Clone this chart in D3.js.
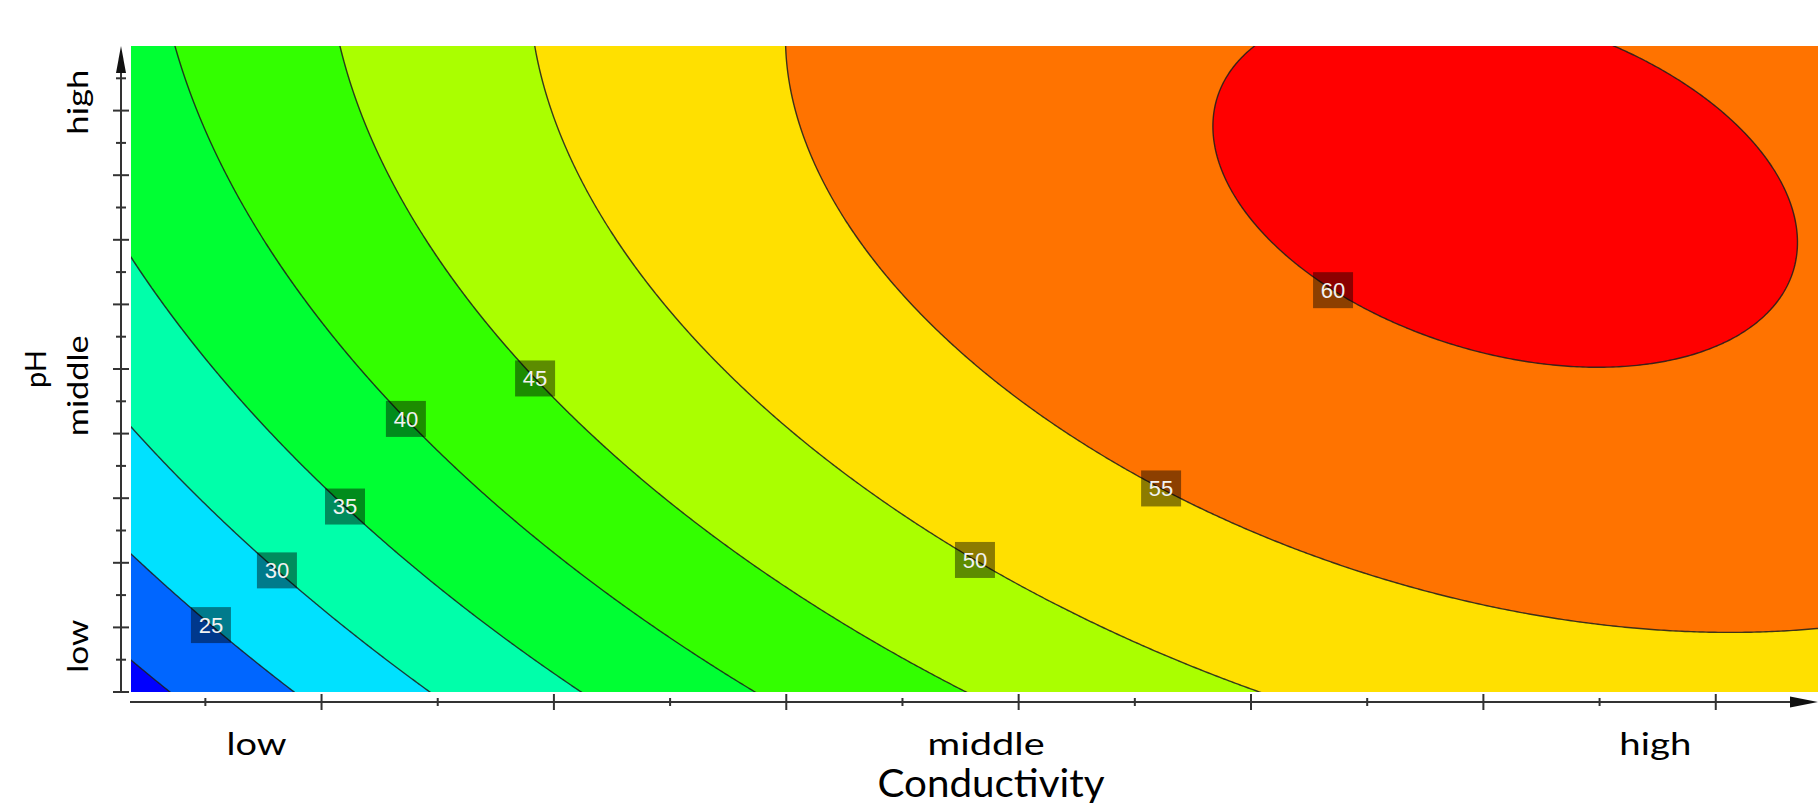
<!DOCTYPE html>
<html>
<head>
<meta charset="utf-8">
<script src="https://cdn.jsdelivr.net/npm/d3@7"></script>
<style>
  body { margin: 0; background: #fff; }
  svg { display: block; }
</style>
</head>
<body>
<svg id="chart" width="1820" height="803"></svg>
<script>
// Contour levels of the response and the fill of each band (lowest band first)
const levels = [20, 25, 30, 35, 40, 45, 50, 55, 60];
const bandColors = ["#0000ff", "#0066ff", "#00e1ff", "#00ffaa", "#00ff33",
                    "#33ff00", "#aaff00", "#ffe000", "#ff7300", "#ff0000"];

// Fitted response surface, both factors scaled to 0..1 over the plotted range:
// [intercept, conductivity, pH, conductivity², pH², conductivity·pH, conductivity²·pH]
const coefficients = [18.35, 72.4, 34.08, -37.5, -13.88, -15.79, 0.86];

// Factor ranges in axis tick units
const condDomain = [-0.82, 6.44];
const phDomain = [0, 10];
const condMajorTicks = [0, 1, 2, 3, 4, 5, 6];
const condMinorTicks = [-0.5, 0.5, 1.5, 2.5, 3.5, 4.5, 5.5];
const phMajorTicks = [0, 1, 2, 3, 4, 5, 6, 7, 8, 9];
const phMinorTicks = [0.5, 1.5, 2.5, 3.5, 4.5, 5.5, 6.5, 7.5, 8.5, 9.5];
const condLabels = ["low", "middle", "high"];
const condLabelPos = [-0.28, 2.86, 5.74];
const phLabels = ["low", "middle", "high"];
const phLabelPos = [0.71, 4.74, 9.13];

// Contour labels: level and the conductivity where its tag sits on the line
const labelLevels = [25, 30, 35, 40, 45, 50, 55, 60];
const labelCond = [-0.476, -0.192, 0.101, 0.363, 0.919, 2.812, 3.613, 4.353];

const svg = d3.select("#chart");
const plot = { left: 131, right: 1818, top: 46, bottom: 692 };

const x = d3.scaleLinear().domain(condDomain).range([plot.left, plot.right]);
const y = d3.scaleLinear().domain(phDomain).range([plot.bottom, plot.top]);

const toU = c => (c - condDomain[0]) / (condDomain[1] - condDomain[0]);
const toV = p => (p - phDomain[0]) / (phDomain[1] - phDomain[0]);
const [b0, b1, b2, b11, b22, b12, b112] = coefficients;
function responseUV(u, v) {
  return b0 + b1 * u + b2 * v + b11 * u * u + b22 * v * v + b12 * u * v + b112 * u * u * v;
}
const response = (c, p) => responseUV(toU(c), toV(p));

// Sample the surface on a fine pixel grid that reaches a little past the plot edges
const step = 3;
const nx = Math.ceil((plot.right - plot.left) / step) + 5;
const ny = Math.ceil((plot.bottom - plot.top) / step) + 5;
const px0 = plot.left - 2 * step, py0 = plot.top - 2 * step;
const grid = new Array(nx * ny);
for (let j = 0; j < ny; j++) {
  for (let i = 0; i < nx; i++) {
    grid[j * nx + i] = response(x.invert(px0 + i * step), y.invert(py0 + j * step));
  }
}
const bands = d3.contours().size([nx, ny]).thresholds(levels)(grid);
const gridPath = d3.geoPath(d3.geoTransform({
  point(gx, gy) { this.stream.point(px0 + (gx - 0.5) * step, py0 + (gy - 0.5) * step); }
}));

svg.append("defs").append("clipPath").attr("id", "plot-clip")
  .append("rect")
  .attr("x", plot.left).attr("y", plot.top)
  .attr("width", plot.right - plot.left).attr("height", plot.bottom - plot.top);

const field = svg.append("g").attr("clip-path", "url(#plot-clip)");
field.append("rect")
  .attr("x", plot.left).attr("y", plot.top)
  .attr("width", plot.right - plot.left).attr("height", plot.bottom - plot.top)
  .attr("fill", bandColors[0]);
field.selectAll("path.band").data(bands).join("path")
  .attr("class", "band")
  .attr("d", gridPath)
  .attr("fill", (d, i) => bandColors[i + 1]);
field.selectAll("path.iso").data(bands).join("path")
  .attr("class", "iso")
  .attr("d", gridPath)
  .attr("fill", "none")
  .attr("stroke", "#1c1c1c")
  .attr("stroke-width", 1.4)
  .attr("stroke-opacity", 0.85);

// Contour tags: place each on its line by solving the surface for pH at the given conductivity
function phOnContour(level, c) {
  const u = toU(c);
  const f = v => responseUV(u, v) - level;
  // walk up from the bottom edge to the first crossing, then bisect
  let lo = 0, hi = null;
  for (let k = 1; k <= 400; k++) {
    const v = k / 400;
    if (Math.sign(f(v)) !== Math.sign(f(lo))) { hi = v; break; }
    lo = v;
  }
  if (hi === null) return phDomain[0];
  for (let k = 0; k < 40; k++) {
    const mid = (lo + hi) / 2;
    if (Math.sign(f(mid)) === Math.sign(f(lo))) lo = mid; else hi = mid;
  }
  return phDomain[0] + (lo + hi) / 2 * (phDomain[1] - phDomain[0]);
}
const tags = svg.append("g").selectAll("g").data(labelLevels).join("g")
  .attr("transform", (d, i) => `translate(${x(labelCond[i])},${y(phOnContour(d, labelCond[i]))})`);
tags.append("rect")
  .attr("x", -20).attr("y", -18).attr("width", 40).attr("height", 36)
  .attr("fill", "#000").attr("fill-opacity", 0.45);
tags.append("text")
  .attr("text-anchor", "middle").attr("dy", "0.36em")
  .attr("font-family", "'Liberation Sans', Arial, sans-serif")
  .attr("font-size", 22)
  .attr("fill", "#f2f2f2")
  .text(d => d);

// Axes
const axisColor = "#333";
const xAxisY = 702, yAxisX = 121;
const axes = svg.append("g").attr("stroke", axisColor).attr("stroke-width", 2);

axes.append("line").attr("x1", plot.left - 1).attr("x2", plot.right - 20)
  .attr("y1", xAxisY).attr("y2", xAxisY);
svg.append("path")
  .attr("d", `M${plot.right},${xAxisY}L${plot.right - 28},${xAxisY - 5.5}L${plot.right - 28},${xAxisY + 5.5}Z`)
  .attr("fill", "#111");
axes.selectAll("line.xmaj").data(condMajorTicks).join("line").attr("class", "xmaj")
  .attr("x1", d => x(d)).attr("x2", d => x(d))
  .attr("y1", xAxisY - 8).attr("y2", xAxisY + 8);
axes.selectAll("line.xmin").data(condMinorTicks).join("line").attr("class", "xmin")
  .attr("x1", d => x(d)).attr("x2", d => x(d))
  .attr("y1", xAxisY - 4).attr("y2", xAxisY + 4);

axes.append("line").attr("x1", yAxisX).attr("x2", yAxisX)
  .attr("y1", plot.bottom).attr("y2", plot.top + 20);
svg.append("path")
  .attr("d", `M${yAxisX},${plot.top}L${yAxisX - 5},${plot.top + 27}L${yAxisX + 5},${plot.top + 27}Z`)
  .attr("fill", "#111");
axes.selectAll("line.ymaj").data(phMajorTicks).join("line").attr("class", "ymaj")
  .attr("y1", d => y(d)).attr("y2", d => y(d))
  .attr("x1", yAxisX - 8).attr("x2", yAxisX + 8);
axes.selectAll("line.ymin").data(phMinorTicks).join("line").attr("class", "ymin")
  .attr("y1", d => y(d)).attr("y2", d => y(d))
  .attr("x1", yAxisX - 5).attr("x2", yAxisX + 5);

// Axis level labels and titles
const labelFont = "Lato, 'Open Sans', sans-serif";
const condLabelWidths = [60, 117, 72];
svg.append("g").selectAll("text").data(condLabels).join("text")
  .attr("x", (d, i) => x(condLabelPos[i])).attr("y", 755)
  .attr("text-anchor", "middle")
  .attr("font-family", labelFont).attr("font-size", 31).attr("fill", "#000")
  .attr("textLength", (d, i) => condLabelWidths[i]).attr("lengthAdjust", "spacingAndGlyphs")
  .text(d => d);
svg.append("text")
  .attr("x", 991).attr("y", 797)
  .attr("text-anchor", "middle")
  .attr("font-family", labelFont).attr("font-size", 38).attr("fill", "#000")
  .attr("textLength", 227).attr("lengthAdjust", "spacingAndGlyphs")
  .text("Conductivity");

const phLabelLengths = [53, 101, 65];
svg.append("g").selectAll("text").data(phLabels).join("text")
  .attr("transform", (d, i) => `translate(88,${y(phLabelPos[i])}) rotate(-90)`)
  .attr("text-anchor", "middle")
  .attr("font-family", labelFont).attr("font-size", 28).attr("fill", "#000")
  .attr("textLength", (d, i) => phLabelLengths[i]).attr("lengthAdjust", "spacingAndGlyphs")
  .text(d => d);
svg.append("text")
  .attr("transform", `translate(46,${y(5)}) rotate(-90)`)
  .attr("text-anchor", "middle")
  .attr("font-family", labelFont).attr("font-size", 28).attr("fill", "#000")
  .attr("textLength", 38).attr("lengthAdjust", "spacingAndGlyphs")
  .text("pH");
</script>
</body>
</html>
